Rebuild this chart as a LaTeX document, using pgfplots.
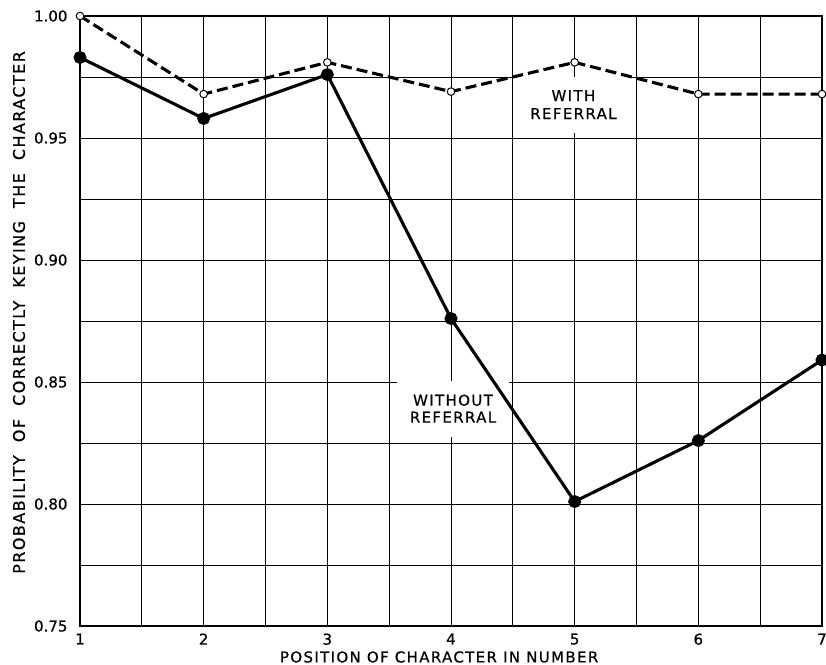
\documentclass[border=0pt]{standalone}
\usepackage{pgfplots}
\pgfplotsset{compat=1.18}
\usepackage{fontspec}
\setmainfont[FakeBold=0.6]{DejaVu Sans}
\newfontfamily\lbl[LetterSpace=9,FakeBold=0.6]{DejaVu Sans}
\begin{document}
\begin{tikzpicture}
\begin{axis}[
  name=ax,
  scale only axis,
  width=742pt, height=610pt,
  xmin=1, xmax=7, ymin=0.75, ymax=1.0,
  xtick={1,2,3,4,5,6,7},
  minor xtick={1.5,2.5,3.5,4.5,5.5,6.5},
  ytick={0.75,0.80,0.85,0.90,0.95,1.00},
  minor ytick={0.775,0.825,0.875,0.925,0.975},
  grid=both,
  major grid style={black, line width=0.8pt},
  minor grid style={black, line width=0.8pt},
  axis line style={black, line width=1.6pt},
  major tick length=0pt, minor tick length=0pt,
  tick style={draw=none},
  /pgf/number format/assume math mode=true,
  yticklabel style={/pgf/number format/fixed, /pgf/number format/fixed zerofill, /pgf/number format/precision=2, font=\fontsize{15pt}{17pt}\selectfont, xshift=-9pt},
  xticklabel style={font=\fontsize{15pt}{17pt}\selectfont, yshift=-4pt},
  xlabel={POSITION OF CHARACTER IN NUMBER},
  ylabel={PROBABILITY\ \ OF\ \ CORRECTLY\ \ KEYING\ \ THE\ \ CHARACTER},
  xlabel style={font=\lbl\fontsize{15pt}{17pt}\selectfont, at={(axis description cs:0.484,-0.0508)}, anchor=center},
  ylabel style={font=\lbl\fontsize{16pt}{18pt}\selectfont, at={(axis description cs:-0.0822,0.514)}, anchor=center},
  clip=false,
]
\node[fill=white, minimum width=112pt, minimum height=56pt, align=center, inner sep=0pt, font=\lbl\fontsize{15pt}{18pt}\selectfont] at (axis cs:4.99,0.9637) {WITH\\REFERRAL};
\node[fill=white, minimum width=112pt, minimum height=56pt, align=center, inner sep=0pt, font=\lbl\fontsize{15pt}{17pt}\selectfont] at (axis cs:4.016,0.8391) {WITHOUT\\REFERRAL};
\addplot[black, line width=3.1pt, dash pattern=on 11pt off 5pt, mark=*, mark options={solid, fill=white, line width=1pt, draw=black}, mark size=3.8pt]
 coordinates {(1,1.000) (2,0.968) (3,0.981) (4,0.969) (5,0.981) (6,0.968) (7,0.968)};
\addplot[black, line width=3.1pt, mark=*, mark options={solid, fill=black}, mark size=4.9pt]
 coordinates {(1,0.983) (2,0.958) (3,0.976) (4,0.876) (5,0.801) (6,0.826) (7,0.859)};
\end{axis}
\pgfresetboundingbox
\path ([shift={(-80pt,-39pt)}]ax.south west) rectangle ([shift={(4pt,16pt)}]ax.north east);
\end{tikzpicture}
\end{document}
